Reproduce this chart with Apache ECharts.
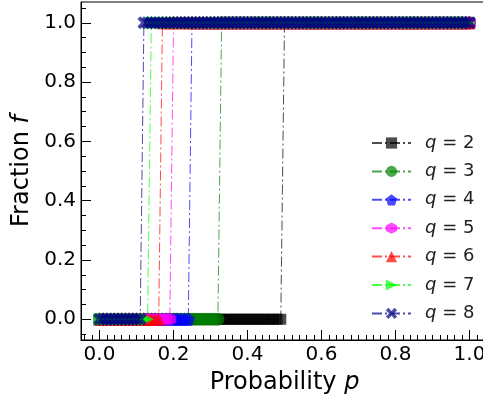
<!DOCTYPE html>
<html><head><meta charset="utf-8">
<script src="https://cdn.jsdelivr.net/npm/echarts@6/dist/echarts.min.js"></script>
<style>html,body{margin:0;padding:0;background:#fff}#c{width:483px;height:405px}</style>
</head><body><div id="c"></div>
<script>
// ---- data ----
const pValues = [0.00,0.01,0.02,0.03,0.04,0.05,0.06,0.07,0.08,0.09,
 0.10,0.11,0.12,0.13,0.14,0.15,0.16,0.17,0.18,0.19,
 0.20,0.21,0.22,0.23,0.24,0.25,0.26,0.27,0.28,0.29,
 0.30,0.31,0.32,0.33,0.34,0.35,0.36,0.37,0.38,0.39,
 0.40,0.41,0.42,0.43,0.44,0.45,0.46,0.47,0.48,0.49,
 0.50,0.51,0.52,0.53,0.54,0.55,0.56,0.57,0.58,0.59,
 0.60,0.61,0.62,0.63,0.64,0.65,0.66,0.67,0.68,0.69,
 0.70,0.71,0.72,0.73,0.74,0.75,0.76,0.77,0.78,0.79,
 0.80,0.81,0.82,0.83,0.84,0.85,0.86,0.87,0.88,0.89,
 0.90,0.91,0.92,0.93,0.94,0.95,0.96,0.97,0.98,0.99,1.00];
const qValues = ['2','3','4','5','6','7','8'];
// first p at which the fraction f jumps from 0 to 1, per q
const criticalP = [0.50,0.33,0.25,0.20,0.17,0.14,0.12];
const xTickValues = [0,0.2,0.4,0.6,0.8,1.0];
const yTickValues = [0,0.2,0.4,0.6,0.8,1.0];

// ---- styling ----
const colors = ['#000000','#008000','#0000ff','#ff00ff','#ff0000','#00ff00','#000080'];
const pentagon = 'path://M50,0 L97.55,34.55 L79.39,90.45 L20.61,90.45 L2.45,34.55 Z';
const hexagon = 'path://M50,0 L93.3,25 L93.3,75 L50,100 L6.7,75 L6.7,25 Z';
const triRight = 'path://M0,0 L100,50 L0,100 Z';
const xShape = 'path://M22,0 L50,28 L78,0 L100,22 L72,50 L100,78 L78,100 L50,72 L22,100 L0,78 L28,50 L0,22 Z';
const symbols = ['rect','circle',pentagon,hexagon,'triangle',triRight,xShape];
const sizes = [11,13,13,13,13,13,13];
const FONT = 'DejaVu Sans';

function range(a, b, step, exclude) {
  const out = [];
  const n = Math.round((b - a) / step);
  for (let i = 0; i <= n; i++) {
    const v = Math.round((a + i * step) * 1000) / 1000;
    if (!exclude.some(e => Math.abs(e - v) < 1e-9)) out.push(v);
  }
  return out;
}
const xMinor = range(-0.04, 1.04, 0.02, xTickValues);
const yMinor = range(-0.05, 1.05, 0.05, yTickValues);

const names = qValues.map(q => 'q = ' + q);
const series = qValues.map((q, i) => ({
  name: names[i],
  type: 'line',
  xAxisIndex: 0, yAxisIndex: 0,
  data: pValues.map(p => [p, p >= criticalP[i] ? 1 : 0]),
  symbol: symbols[i],
  symbolSize: sizes[i],
  itemStyle: {color: colors[i], opacity: 0.7},
  lineStyle: {color: colors[i], width: 1, opacity: 0.7, type: [10, 3, 2, 3]},
  emphasis: {disabled: true},
  animation: false
}));

const xMin = -0.05, xMax = 1.05, yMin = -0.07, yMax = 1.07;
const axisBase = {type: 'value', splitLine: {show: false}};
const option = {
  backgroundColor: '#fff',
  animation: false,
  grid: {left: 81, width: 407, top: 2, height: 338, outerBoundsMode: 'none', containLabel: false,
    show: true, borderColor: '#000', borderWidth: 1, backgroundColor: 'transparent'},
  legend: {
    orient: 'vertical', left: 366, top: 128,
    itemWidth: 39, itemHeight: 14, itemGap: 8.4,
    data: names,
    formatter: name => '{i|q} = ' + name.split('= ')[1],
    textStyle: {fontSize: 18, fontFamily: FONT, color: '#222', lineHeight: 20, padding: [0,0,0,9],
      rich: {i: {fontStyle: 'italic', fontSize: 18, fontFamily: FONT, color: '#222', lineHeight: 20}}}
  },
  xAxis: [
    Object.assign({}, axisBase, {
      min: xMin, max: xMax, position: 'bottom',
      name: 'Probability {i|p}', nameLocation: 'middle', nameGap: 31,
      nameTextStyle: {fontSize: 24, fontFamily: FONT, color: '#000',
        rich: {i: {fontStyle: 'italic', fontSize: 24, fontFamily: FONT, color: '#000'}}},
      axisLine: {show: true, onZero: false, lineStyle: {color: '#000', width: 1}},
      axisTick: {show: true, inside: true, length: 10, customValues: xTickValues, lineStyle: {color: '#000', width: 1}},
      axisLabel: {show: true, customValues: xTickValues, formatter: v => v.toFixed(1), fontSize: 20, fontFamily: FONT, color: '#000', margin: 5}
    }),
    Object.assign({}, axisBase, {
      min: xMin, max: xMax, position: 'bottom',
      axisLine: {show: false, onZero: false},
      axisTick: {show: true, inside: true, length: 5, customValues: xMinor, lineStyle: {color: '#000', width: 1}},
      axisLabel: {show: false}
    })
  ],
  yAxis: [
    Object.assign({}, axisBase, {
      min: yMin, max: yMax, position: 'left',
      name: 'Fraction {i|f}', nameLocation: 'middle', nameGap: 47, nameRotate: 90,
      nameTextStyle: {fontSize: 24, fontFamily: FONT, color: '#000',
        rich: {i: {fontStyle: 'italic', fontSize: 24, fontFamily: FONT, color: '#000'}}},
      axisLine: {show: true, onZero: false, lineStyle: {color: '#000', width: 1}},
      axisTick: {show: true, inside: true, length: 10, customValues: yTickValues, lineStyle: {color: '#000', width: 1}},
      axisLabel: {show: true, customValues: yTickValues, formatter: v => v.toFixed(1), fontSize: 20, fontFamily: FONT, color: '#000', margin: 5}
    }),
    Object.assign({}, axisBase, {
      min: yMin, max: yMax, position: 'left',
      axisLine: {show: false, onZero: false},
      axisTick: {show: true, inside: true, length: 5, customValues: yMinor, lineStyle: {color: '#000', width: 1}},
      axisLabel: {show: false}
    })
  ],
  series: series
};
const chart = echarts.init(document.getElementById('c'), null, {renderer: 'canvas'});
chart.setOption(option);
</script>
</body></html>
